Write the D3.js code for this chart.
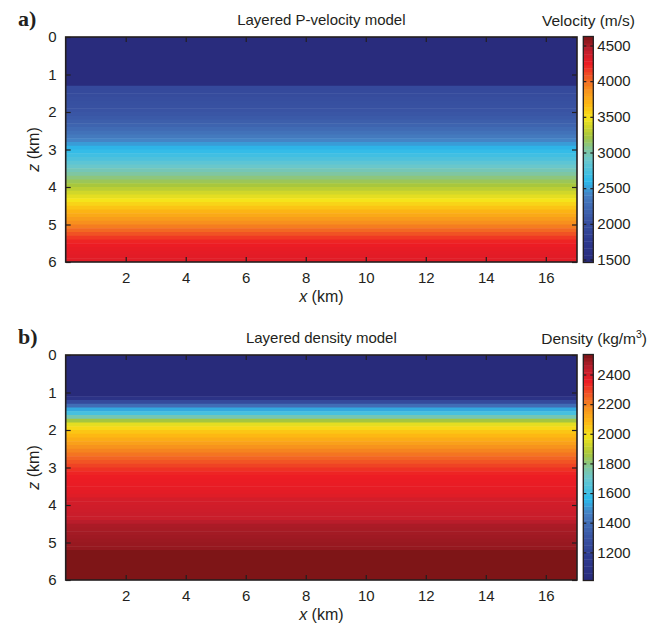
<!DOCTYPE html>
<html><head><meta charset="utf-8">
<script src="https://cdn.jsdelivr.net/npm/d3@7"></script>
<style>
html,body{margin:0;padding:0;background:#fff;}
svg{display:block;}
</style></head>
<body>
<svg id="chart" width="659" height="626"></svg>
<script>
// ---------------- DATA ----------------
const xTicks = [2, 4, 6, 8, 10, 12, 14, 16];
const zTicks = [0, 1, 2, 3, 4, 5, 6];
const xMax = 17.04;      // km
const zMax = 6;          // km

// velocity model: layer top depth (km) and P-velocity (m/s)
const velDepth = [0, 1.3, 1.4, 1.5, 1.6, 1.7, 1.8, 1.9, 2.0, 2.1, 2.2, 2.3, 2.4, 2.5, 2.6, 2.7, 2.8, 2.9, 3.0,
  3.1, 3.2, 3.3, 3.4, 3.5, 3.6, 3.7, 3.8, 3.9, 4.0, 4.1, 4.2, 4.3, 4.4, 4.5, 4.6, 4.7, 4.8, 4.9, 5.0,
  5.1, 5.2, 5.3, 5.4, 5.5, 5.6, 5.7, 5.8, 5.9];
const velValue = [1500, 1950, 1960, 1980, 2000, 2020, 2040, 2060, 2090, 2120, 2160, 2200, 2250, 2300, 2360, 2420, 2500, 2580, 2640,
  2700, 2760, 2830, 2900, 2970, 3040, 3110, 3180, 3240, 3300, 3370, 3430, 3490, 3560, 3630, 3700, 3760, 3820, 3880, 3940,
  4010, 4080, 4160, 4220, 4250, 4270, 4280, 4290, 4300];
const velTicks = [1500, 2000, 2500, 3000, 3500, 4000, 4500];
const velRange = [1458, 4626];

// density model: layer top depth (km) and density (kg/m^3)
const denDepth = [0, 1.1, 1.2, 1.3, 1.4, 1.5, 1.6, 1.7, 1.8, 1.9, 2.0, 2.1, 2.2, 2.3, 2.4, 2.5, 2.6, 2.7, 2.8, 2.9, 3.0,
  3.1, 3.2, 3.3, 3.4, 3.5, 3.6, 3.7, 3.8, 3.9, 4.0, 4.1, 4.2, 4.3, 4.4, 4.5, 4.6, 4.7, 4.8, 4.9, 5.0, 5.1, 5.2];
const denValue = [1020, 1100, 1250, 1400, 1530, 1620, 1740, 1860, 1960, 2010, 2050, 2080, 2110, 2140, 2170, 2195, 2220, 2245, 2270, 2295, 2320,
  2340, 2350, 2355, 2360, 2365, 2370, 2380, 2400, 2405, 2410, 2415, 2420, 2425, 2450, 2470, 2475, 2480, 2485, 2490, 2495, 2500, 2530];
const denTicks = [1200, 1400, 1600, 1800, 2000, 2200, 2400];
const denRange = [1010, 2535];

// colormap (printed "jet")
const cmapStops  = [0, 0.10, 0.20, 0.30, 0.36, 0.45, 0.50, 0.56, 0.64, 0.70, 0.76, 0.82, 0.88, 0.94, 1.0];
const cmapColors = ["#282a7a", "#2e3a8f", "#3a56a5", "#4680c3", "#2bbaec", "#68c7d0", "#7fc6a0", "#a6c63d",
  "#f5e51b", "#fdb913", "#f7941d", "#f15a24", "#ed1c24", "#be1e2d", "#7a1416"];

// ---------------- DRAW ----------------
const svg = d3.select("#chart");
const cmap = d3.scaleLinear().domain(cmapStops).range(cmapColors).interpolate(d3.interpolateRgb).clamp(true);
const ink = "#231f20";
const SANS = "'Liberation Sans', Arial, sans-serif";

function styleAxis(a, withText) {
  a.select(".domain").remove();
  a.selectAll("line").attr("stroke", ink).attr("stroke-width", 1.2);
  if (withText) a.selectAll("text").style("font-family", SANS).style("font-size", "15px").attr("fill", ink);
}

function panel(opt) {
  const top = opt.top;
  const L = 65.7, R = 577, T = top, B = top + 225;
  const x = d3.scaleLinear().domain([0, xMax]).range([L, R]);
  const z = d3.scaleLinear().domain([0, zMax]).range([T, B]);
  const norm = d3.scaleLinear().domain(opt.range).range([0, 1]);
  const g = svg.append("g");

  // layers
  const layers = opt.depth.map((d, i) => ({ z0: d, z1: i < opt.depth.length - 1 ? opt.depth[i + 1] : zMax, v: opt.value[i] }));
  g.selectAll("rect.layer").data(layers).enter().append("rect")
    .attr("x", x(0)).attr("width", x(xMax) - x(0))
    .attr("y", d => z(d.z0)).attr("height", d => Math.min(z(d.z1) + 0.5, B) - z(d.z0))
    .attr("fill", d => cmap(norm(d.v)));

  // axes (inward ticks)
  g.append("g").attr("transform", `translate(0,${B})`)
    .call(d3.axisBottom(x).tickValues(xTicks).tickSizeInner(-5).tickSizeOuter(0).tickPadding(10).tickFormat(d3.format("d")))
    .call(a => styleAxis(a, true));
  g.append("g").attr("transform", `translate(0,${T})`)
    .call(d3.axisTop(x).tickValues(xTicks).tickSizeInner(-5).tickSizeOuter(0).tickFormat(""))
    .call(a => styleAxis(a, false));
  g.append("g").attr("transform", `translate(${L},0)`)
    .call(d3.axisLeft(z).tickValues(zTicks).tickSizeInner(-5).tickSizeOuter(0).tickPadding(9).tickFormat(d3.format("d")))
    .call(a => styleAxis(a, true));
  g.append("g").attr("transform", `translate(${R},0)`)
    .call(d3.axisRight(z).tickValues(zTicks).tickSizeInner(-5).tickSizeOuter(0).tickFormat(""))
    .call(a => styleAxis(a, false));
  g.append("rect").attr("x", L).attr("y", T).attr("width", R - L).attr("height", B - T)
    .attr("fill", "none").attr("stroke", ink).attr("stroke-width", 1.6);

  // colorbar
  const cL = 583.3, cR = 593.3, cT = T - 0.5, cB = B + 0.5;
  const cs = d3.scaleLinear().domain(opt.range).range([cB, cT]);
  const nBands = 64;
  const bands = d3.range(nBands);
  g.selectAll("rect.band").data(bands).enter().append("rect")
    .attr("x", cL).attr("width", cR - cL)
    .attr("y", i => cB - (i + 1) * (cB - cT) / nBands)
    .attr("height", (cB - cT) / nBands + 0.4)
    .attr("fill", i => cmap((i + 0.5) / nBands));
  g.append("g").attr("transform", `translate(${cR},0)`)
    .call(d3.axisRight(cs).tickValues(opt.ticks).tickSizeInner(-3).tickSizeOuter(0).tickPadding(4).tickFormat(d3.format("d")))
    .call(a => styleAxis(a, true));
  g.append("g").attr("transform", `translate(${cL},0)`)
    .call(d3.axisLeft(cs).tickValues(opt.ticks).tickSizeInner(-3).tickSizeOuter(0).tickFormat(""))
    .call(a => styleAxis(a, false));
  g.append("rect").attr("x", cL).attr("y", cT).attr("width", cR - cL).attr("height", cB - cT)
    .attr("fill", "none").attr("stroke", ink).attr("stroke-width", 1.3);

  // texts
  g.append("text").attr("x", 18).attr("y", T - 11)
    .style("font-family", "'Liberation Serif', 'Times New Roman', serif")
    .style("font-weight", "bold").style("font-size", "22px").attr("fill", ink).text(opt.letter);
  g.append("text").attr("x", (L + R) / 2).attr("y", T - 12).attr("text-anchor", "middle")
    .style("font-family", SANS).style("font-size", "15px").attr("fill", ink).text(opt.title);
  const ct = g.append("text").attr("x", opt.cbX).attr("y", T - 11).attr("text-anchor", "end")
    .style("font-family", SANS).style("font-size", "15.5px").attr("fill", ink);
  opt.cbTitle(ct);
  const yl = g.append("text").attr("transform", `translate(39,${(T + B) / 2}) rotate(-90)`).attr("text-anchor", "middle")
    .style("font-family", SANS).style("font-size", "16px").attr("fill", ink);
  yl.append("tspan").style("font-style", "italic").text("z");
  yl.append("tspan").text(" (km)");
  const xl = g.append("text").attr("x", (L + R) / 2).attr("y", B + 40).attr("text-anchor", "middle")
    .style("font-family", SANS).style("font-size", "16px").attr("fill", ink);
  xl.append("tspan").style("font-style", "italic").text("x");
  xl.append("tspan").text(" (km)");
}

panel({ top: 37, depth: velDepth, value: velValue, range: velRange, ticks: velTicks, letter: "a)",
  title: "Layered P-velocity model", cbX: 635,
  cbTitle: t => t.text("Velocity (m/s)") });
panel({ top: 355, depth: denDepth, value: denValue, range: denRange, ticks: denTicks, letter: "b)",
  title: "Layered density model", cbX: 647,
  cbTitle: t => { t.append("tspan").text("Density (kg/m"); t.append("tspan").attr("dy", -6).style("font-size", "10.5px").text("3"); t.append("tspan").attr("dy", 6).text(")"); } });
</script>
</body></html>
